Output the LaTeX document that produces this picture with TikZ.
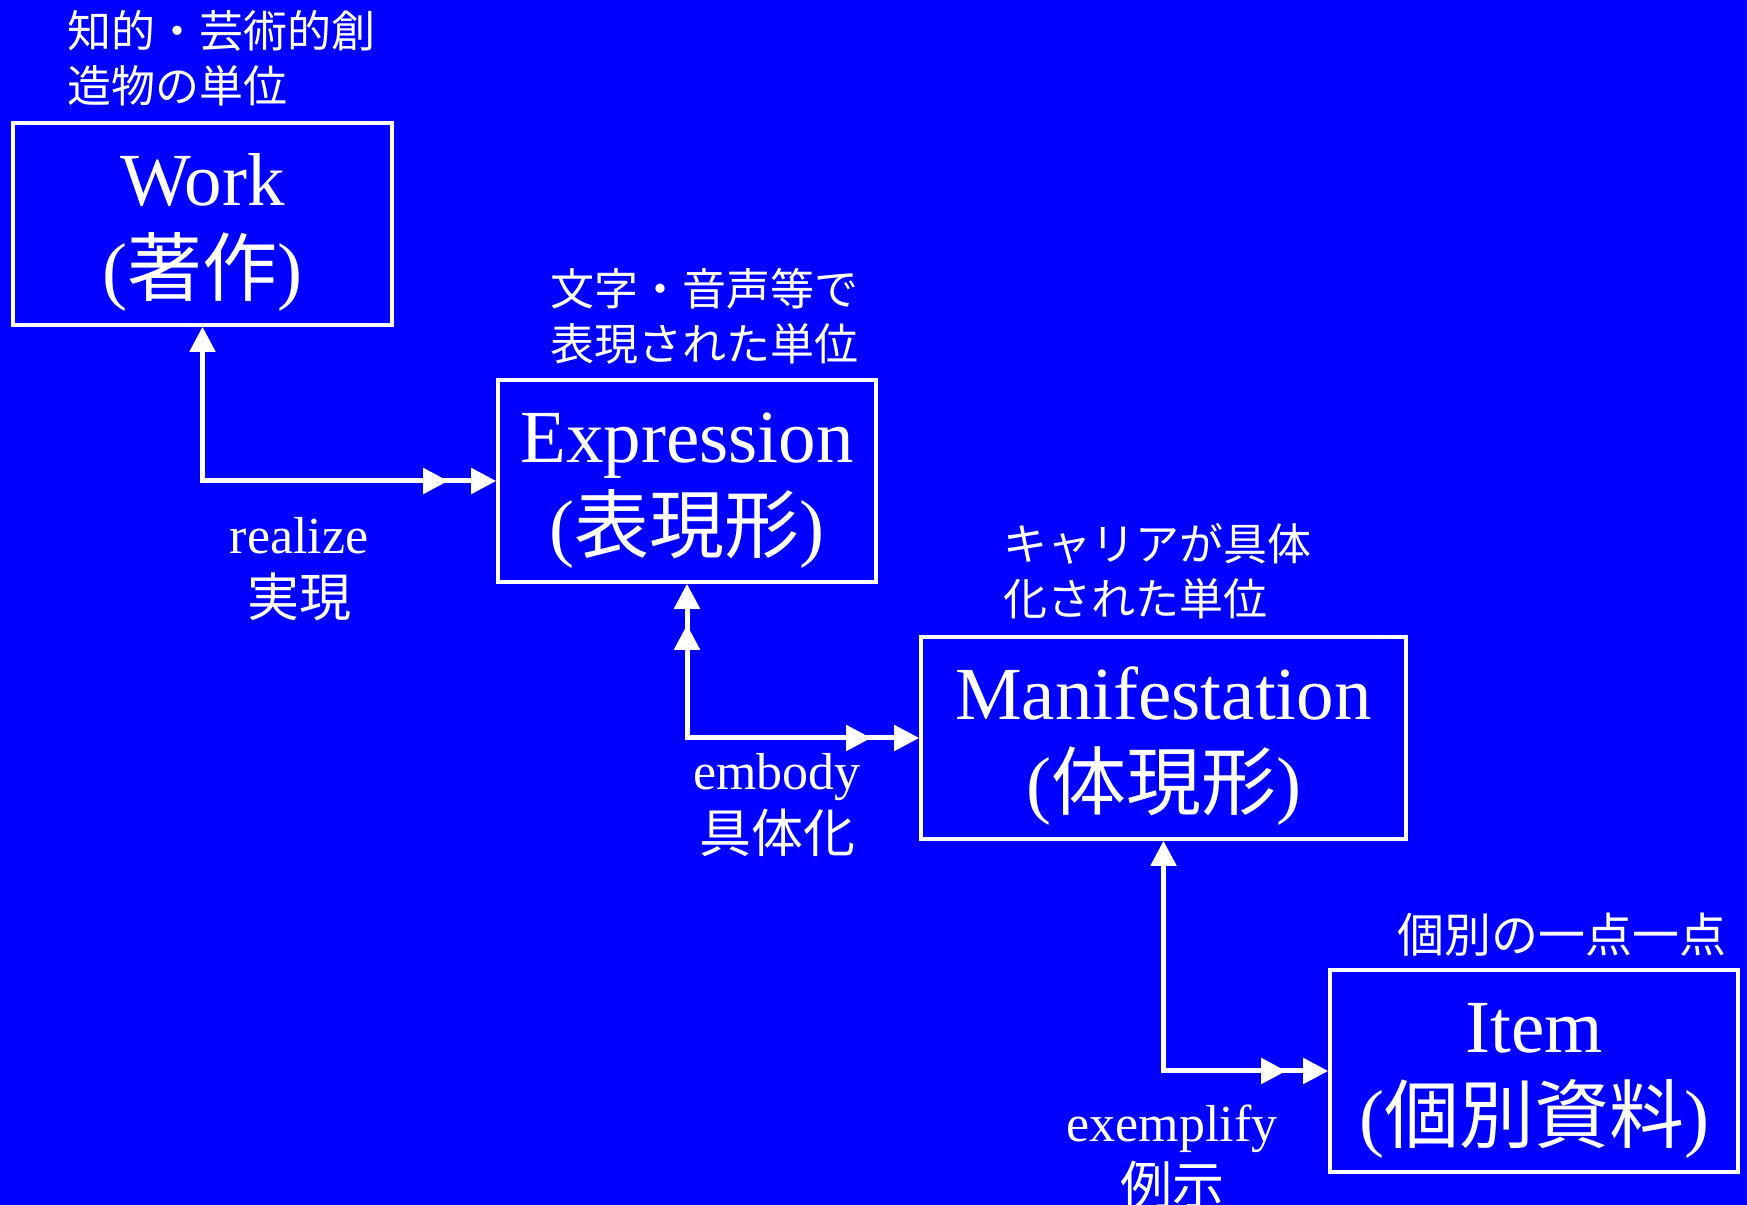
\documentclass[tikz,border=0pt]{standalone}
\usepackage{fontspec}
\setmainfont{Liberation Serif}
\newfontfamily\jp{Noto Sans CJK JP}
\usetikzlibrary{arrows.meta, decorations.markings}
\newcommand{\toprule}{\rule{0pt}{0.92em}}

\begin{document}
\begin{tikzpicture}[x=0.25pt, y=-0.25pt,
    >={Triangle[length=6.25pt, width=6.25pt]},
    box/.style={draw=white, line width=0.9pt, text=white, align=center, minimum height=50.5pt, inner sep=0pt, font=\fontsize{18.75}{22.5}\selectfont},
    note/.style={text=white, align=left, anchor=north west, inner sep=0pt, font=\jp\fontsize{11}{13.75}\selectfont},
    rel/.style={text=white, align=center, anchor=north, inner sep=0pt, font=\fontsize{13}{15.75}\selectfont},
    link/.style={draw=white, line width=1.25pt},
    end2/.style={postaction={decorate, decoration={markings, mark=at position -#1 with {\arrow{>}}}}},
    start2/.style={postaction={decorate, decoration={markings, mark=at position #1 with {\arrowreversed{>}}}}}]
        \fill[blue] (0,0) rectangle (1747,1205);
        \useasboundingbox (0,0) rectangle (1747,1205);

        \node[box, minimum width=94.75pt] (work) at (202.5,224) {\toprule Work\\({\jp 著作})}; % top left
        \node[box, minimum width=94.5pt] (expr) at (687,481) {\toprule Expression\\({\jp 表現形})};
        \node[box, minimum width=121.25pt] (mani) at (1163.5,738) {\toprule Manifestation\\({\jp 体現形})};
        \node[box, minimum width=102pt] (item) at (1534,1071) {\toprule Item\\({\jp 個別資料})}; % bottom right

        % notes above the boxes
        \node[note] (worknote) at (67,10) {知的・芸術的創\\造物の単位};
        \node[note] (exprnote) at (550,268) {文字・音声等で\\表現された単位};
        \node[note] (maninote) at (1003,522) {キャリアが具体\\化された単位};
        \node[note, font=\jp\fontsize{11.75}{13.75}\selectfont] (itemnote) at (1397,912) {個別の一点一点};

        % relations
        \draw[link, <->, end2=12pt] (work) |- (expr);
        \draw[link, <->, start2=10.25pt, end2=12pt] (expr) |- (mani);
        \draw[link, <->, end2=10.5pt] (mani) |- (item);

        \node[rel] (realize) at (299,517) {realize\\{\jp 実現}};
        \node[rel] (embody) at (777,753) {embody\\{\jp 具体化}};
        \node[rel] (exemplify) at (1172,1104) {exemplify\\{\jp 例示}};
\end{tikzpicture}
\end{document}
